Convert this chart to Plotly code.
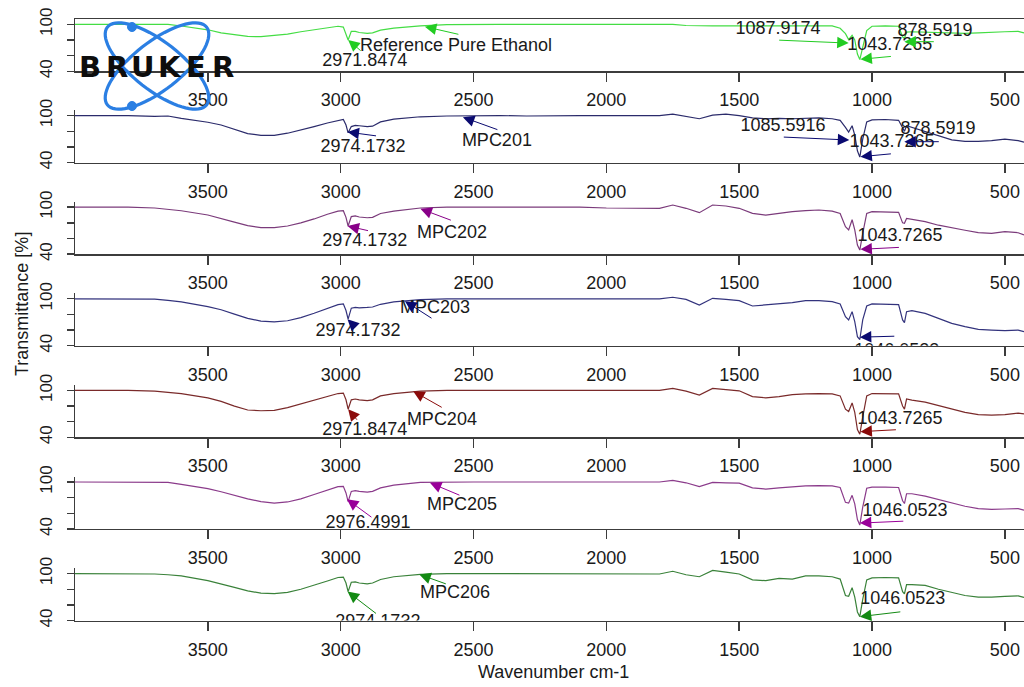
import math
import plotly.graph_objects as go

# ---------------- data ----------------
WAVENUMBER = [4000, 3800, 3700, 3650, 3600, 3500, 3450, 3400, 3350, 3300,
              3250, 3200, 3150, 3100, 3050, 3010, 2990, 2980, 2972, 2960,
              2945, 2930, 2900, 2880, 2850, 2800, 2700, 2600, 2500, 2400,
              2300, 2200, 2100, 2000, 1900, 1800, 1750, 1700, 1650, 1600,
              1550, 1500, 1450, 1400, 1350, 1300, 1250, 1200, 1150, 1120,
              1100, 1088, 1075, 1065, 1055, 1046, 1035, 1020, 1000, 950,
              900, 885, 878, 870, 850, 800, 750, 700, 650, 600,
              550, 500, 450, 428]

ETHANOL = [100, 100, 100, 100, 97.8, 93, 89, 86.5, 84.5, 84.2,
           85.5, 87.5, 90.5, 93, 96, 97.5, 96.5, 88, 80, 91,
           91, 89.5, 88.5, 89, 92.5, 95, 98, 99.5, 100, 100,
           100, 100, 100, 100, 100, 100, 100, 98.5, 98, 98,
           98, 98, 98, 98, 98, 98, 98, 98, 98, 95,
           88, 80.5, 86, 80, 62, 55, 70, 92, 97.5, 98,
           97.5, 84, 82, 90, 90.5, 90, 89, 88.5, 88.5, 89,
           90, 90.5, 91, 89]

MPC201 = [100, 100, 99, 99.5, 96.5, 91.5, 88, 82.5, 77, 74.8,
          74.8, 77.5, 81.5, 86, 90.5, 94, 95, 88, 78, 86,
          87.5, 87, 86, 86.5, 92, 95.5, 98.5, 99.5, 100, 100,
          99.5, 100, 100, 100, 100, 100, 102, 99, 96, 100.5,
          102, 100, 97, 96, 96.5, 96, 96.5, 97, 96, 94,
          85, 79, 87, 75, 55, 47, 70, 92, 94.5, 95,
          94, 83, 80, 87, 85, 80, 74, 69, 67, 67,
          68, 70, 68, 66]

MPC202 = [100, 100, 99, 97.5, 95.5, 90, 86, 81, 76.5, 74,
          74, 76, 80, 85, 91, 95, 95.5, 87, 76, 88,
          89, 87.5, 86.5, 87, 92, 95, 99, 100, 100, 100,
          100, 100, 100, 99, 98.6, 98.6, 102.8, 98.6, 93, 102.8,
          101.5, 98.6, 92.2, 90, 92, 94.3, 95.6, 96.4, 95, 92,
          75, 71, 84, 71, 51.6, 45.3, 66.5, 92, 94.3, 94.3,
          93.4, 80, 79.5, 85.6, 84.4, 81.5, 77, 73.5, 70.6, 67.5,
          66.5, 68.7, 67.4, 64.5]

MPC203 = [100, 100, 99.5, 98, 96, 90, 86, 80.5, 75, 71.5,
          70.5, 72, 76, 81.5, 88, 92.5, 93.5, 85, 74, 88,
          89, 88.5, 89, 89.5, 93, 96, 99, 100, 100, 100,
          100, 100, 100, 100, 100, 100, 102, 99.3, 92, 100.6,
          99.3, 97.6, 90.8, 92, 93.4, 95, 97.6, 97.6, 96.3, 93.4,
          77.2, 72.9, 83.6, 70.8, 51.6, 48, 73, 90.8, 93.4, 93.4,
          92.5, 73, 69.5, 83.6, 85, 81.4, 75, 68.7, 64.4, 61,
          60, 59.3, 60, 58]

MPC204 = [100, 100, 99, 97.5, 96, 90.5, 86, 80, 75, 74,
          74.5, 78, 82.5, 87, 92, 96, 96.5, 88, 76, 88,
          89, 88, 87, 88, 93, 96, 99, 100, 100, 100,
          100, 100, 100, 100, 100, 100, 102.5, 99, 94, 102.5,
          101, 99.5, 92, 90.5, 92, 94.5, 95.5, 96, 95.5, 93,
          76, 73, 84, 72, 50, 44, 66, 93, 96, 96,
          95.5, 80, 76, 89, 87.5, 85, 80.5, 76.5, 72, 69,
          68.5, 69, 71, 70]

MPC205 = [100, 100, 100, 99.5, 97, 91.5, 87.5, 83, 78.5, 75,
          73, 74.5, 78.5, 84, 89.5, 94, 94.5, 86, 75, 88,
          89, 88, 87, 88, 92.5, 96, 99.5, 100, 100, 100,
          100, 100, 100, 100, 100, 100, 102, 99, 94, 99.5,
          99, 98.5, 92.5, 91, 92.5, 94, 95, 95.5, 95, 93,
          74, 73, 83, 72, 52, 45, 68, 92, 93.5, 93.5,
          93, 76, 72.5, 85, 85, 82, 77.5, 73, 69, 66,
          65, 65.5, 66, 64]

MPC206 = [100, 100, 99.5, 98.5, 97, 91, 87, 82.5, 78, 75,
          74.5, 76, 80, 85, 90.5, 95, 95.5, 88, 77, 89,
          89.5, 88, 87, 88, 92.5, 96, 99, 100, 100, 100,
          100, 100, 100, 99.5, 99.5, 99.5, 103, 98.5, 96, 104,
          102, 99.5, 92, 91, 94, 93, 97, 97, 96, 93,
          72, 71, 82, 70, 51, 45, 67, 92, 94.5, 95,
          94.5, 77, 74, 86, 86, 85, 80, 76, 72, 70,
          70, 71, 71.5, 69.5]

SERIES_NAMES = ["Reference Pure Ethanol", "MPC201", "MPC202", "MPC203",
                "MPC204", "MPC205", "MPC206"]
SERIES = [ETHANOL, MPC201, MPC202, MPC203, MPC204, MPC205, MPC206]

X_TICKS = [3500, 3000, 2500, 2000, 1500, 1000, 500]
Y_TICKS = [40, 60, 80, 100]
Y_TICK_TEXT = ["40", "", "", "100"]

# peak / sample labels: (panel, text, x, y)
LABELS = [
    (0, "2971.8474", 2909, 52), (0, "Reference Pure Ethanol", 2566, 71.9),
    (0, "1087.9174", 1354, 93.6), (0, "1043.7265", 933, 72.7), (0, "878.5919", 763, 90.5),
    (1, "2974.1732", 2916, 59.8), (1, "MPC201", 2412, 67.4),
    (1, "1085.5916", 1335, 86.7), (1, "1043.7265", 925, 65), (1, "878.5919", 752, 81.6),
    (2, "2974.1732", 2909, 56.8), (2, "MPC202", 2581, 65.8), (2, "1043.7265", 895, 62.3),
    (3, "2974.1732", 2935, 58.5), (3, "MPC203", 2645, 88.2), (3, "1046.0523", 907, 32.4),
    (4, "2971.8474", 2909, 49.4), (4, "MPC204", 2619, 62), (4, "1043.7265", 895, 63),
    (5, "2976.4991", 2897, 46.4), (5, "MPC205", 2543, 70), (5, "1046.0523", 876, 62.1),
    (6, "2974.1732", 2860, 37), (6, "MPC206", 2570, 75.2), (6, "1046.0523", 884, 66.3),
]

# arrows: (panel, head x, head y, tail dx px, tail dy px)
ARROWS = [
    (0, 2971.8, 80, 14, 12), (0, 2683, 97, 35, 8), (0, 1087.9, 76, -71, -3),
    (0, 1043.7, 55.3, 32, -3), (0, 878.6, 77.8, 31, 0),
    (1, 2974.2, 79, 30, 4), (1, 2540, 98, 36, 13), (1, 1085.6, 68.8, -67, -3),
    (1, 1043.7, 47.5, 32, -3), (1, 878.6, 66.7, 36, 0),
    (2, 2974.2, 76, 22, 5), (2, 2700, 98, 32, 12), (2, 1043.7, 46.2, 40, -2),
    (3, 2974.2, 74, 8, 8), (3, 2758, 97, 28, 18), (3, 1046.0, 51, 36, -1),
    (4, 2971.8, 76, 10, 12), (4, 2727, 99, 30, 17), (4, 1043.7, 47.3, 37, -2),
    (5, 2976.5, 78, 26, 19), (5, 2664, 99, 31, 13), (5, 1046.0, 47.5, 45, -2),
    (6, 2974.2, 77, 30, 23), (6, 2704, 99, 28, 10), (6, 1046.0, 45, 42, -5),
]

LINE_COLORS = ["#44dd44", "#2b2b6b", "#7b3b7b", "#33337d", "#7a2a2a", "#8b3b8b", "#3a823a"]
ARROW_COLORS = ["#22cc22", "#0a0a70", "#880088", "#0a0a70", "#8b0a0a", "#990099", "#138a13"]

# ---------------- layout geometry ----------------
W, H = 1024, 687
X_LEFT = 75
P100 = [24.3, 115.6, 207.2, 298.8, 390.4, 482.0, 573.6]   # pixel row of T=100 in each panel
PX_PER_T = 0.783
Y_RANGE = [40, 106.8]
AX = "#3c3c3c"
FONT = "Liberation Sans, Arial, sans-serif"
TXT = "#1a1a1a"

fig = go.Figure()
layout = dict(
    width=W, height=H, margin=dict(l=0, r=0, t=0, b=0, pad=0, autoexpand=False),
    paper_bgcolor="white", plot_bgcolor="rgba(0,0,0,0)",
    showlegend=False, hovermode=False,
    font=dict(family=FONT, color=TXT),
)

annotations = []
for i in range(7):
    xa = "x" if i == 0 else f"x{i+1}"
    ya = "y" if i == 0 else f"y{i+1}"
    xk = "xaxis" if i == 0 else f"xaxis{i+1}"
    yk = "yaxis" if i == 0 else f"yaxis{i+1}"
    top_px = P100[i] - (Y_RANGE[1] - 100) * PX_PER_T
    bot_px = P100[i] + (100 - Y_RANGE[0]) * PX_PER_T

    fig.add_trace(go.Scatter(
        x=WAVENUMBER, y=SERIES[i], mode="lines", name=SERIES_NAMES[i],
        line=dict(color=LINE_COLORS[i], width=1.2),
        xaxis=xa, yaxis=ya, hoverinfo="skip", cliponaxis=True))

    labs = [l for l in LABELS if l[0] == i]
    fig.add_trace(go.Scatter(
        x=[l[2] for l in labs], y=[l[3] for l in labs], text=[l[1] for l in labs],
        mode="text", textposition="middle center",
        textfont=dict(size=18, color=TXT, family=FONT),
        xaxis=xa, yaxis=ya, hoverinfo="skip", cliponaxis=True))

    layout[xk] = dict(
        domain=[X_LEFT / W, 1.0], range=[4000, 428], anchor=ya, automargin=False,
        showline=True, linecolor=AX, linewidth=1.4, mirror=(i == 0),
        ticks="outside", ticklen=9, tickwidth=1.4, tickcolor=AX,
        tickvals=X_TICKS, ticktext=[str(v) for v in X_TICKS],
        tickfont=dict(size=18, color=TXT, family=FONT), ticklabelstandoff=3,
        showgrid=False, zeroline=False)
    layout[yk] = dict(
        domain=[1 - bot_px / H, 1 - top_px / H], range=Y_RANGE, anchor=xa, automargin=False,
        showline=True, linecolor=AX, linewidth=1.4,
        ticks="outside", ticklen=7, tickwidth=1.4, tickcolor=AX,
        tickvals=Y_TICKS, ticktext=Y_TICK_TEXT, tickangle=-90,
        tickfont=dict(size=17, color=TXT, family=FONT), ticklabelstandoff=8,
        showgrid=False, zeroline=False)

for (p, hx, hy, dx, dy) in ARROWS:
    xa = "x" if p == 0 else f"x{p+1}"
    ya = "y" if p == 0 else f"y{p+1}"
    annotations.append(dict(
        x=hx, y=hy, xref=xa, yref=ya, ax=dx, ay=dy, text="",
        showarrow=True, arrowhead=2, arrowsize=2.3, arrowwidth=1,
        arrowcolor=ARROW_COLORS[p], standoff=0))

# axis titles
annotations.append(dict(text="Transmittance [%]", x=22 / W, y=1 - 304 / H,
                        xref="paper", yref="paper", showarrow=False, textangle=-90,
                        xanchor="center", yanchor="middle",
                        font=dict(size=18, color=TXT, family=FONT)))
annotations.append(dict(text="Wavenumber cm-1", x=553 / W, y=1 - 672 / H,
                        xref="paper", yref="paper", showarrow=False,
                        xanchor="center", yanchor="middle",
                        font=dict(size=18, color=TXT, family=FONT)))

# ---------------- Bruker logo (decoration) ----------------
shapes = []
LOGO_C = (157, 66)
for ang in (38, -38):
    th = math.radians(ang)
    pts = []
    for k in range(73):
        t = 2 * math.pi * k / 72
        ex, ey = 63 * math.cos(t), 24 * math.sin(t)
        px = LOGO_C[0] + ex * math.cos(th) - ey * math.sin(th)
        py = LOGO_C[1] + ex * math.sin(th) + ey * math.cos(th)
        pts.append(f"{px / W:.5f},{1 - py / H:.5f}")
    shapes.append(dict(type="path", path="M " + " L ".join(pts) + " Z",
                       xref="paper", yref="paper", line=dict(color="#2b7fe3", width=3.2),
                       layer="above"))
for (dxp, dyp) in [(132, 27), (132, 106)]:
    r = 4.5
    shapes.append(dict(type="circle", xref="paper", yref="paper",
                       x0=(dxp - r) / W, x1=(dxp + r) / W,
                       y0=1 - (dyp + r) / H, y1=1 - (dyp - r) / H,
                       fillcolor="#2b7fe3", line=dict(color="#2b7fe3", width=1),
                       layer="above"))
for k, ch in enumerate("BRUKER"):
    annotations.append(dict(text=f"<b>{ch}</b>", x=(90 + 26.6 * k) / W, y=1 - 67 / H,
                            xref="paper", yref="paper", showarrow=False,
                            xanchor="center", yanchor="middle",
                            font=dict(size=29, color="#0d0d0d", family="DejaVu Sans")))

layout["annotations"] = annotations
layout["shapes"] = shapes
fig.update_layout(**layout)
fig.write_html("out.html", config={"displayModeBar": False, "staticPlot": True},
               post_script="document.body.style.margin='0px';document.body.style.overflow='hidden';")
